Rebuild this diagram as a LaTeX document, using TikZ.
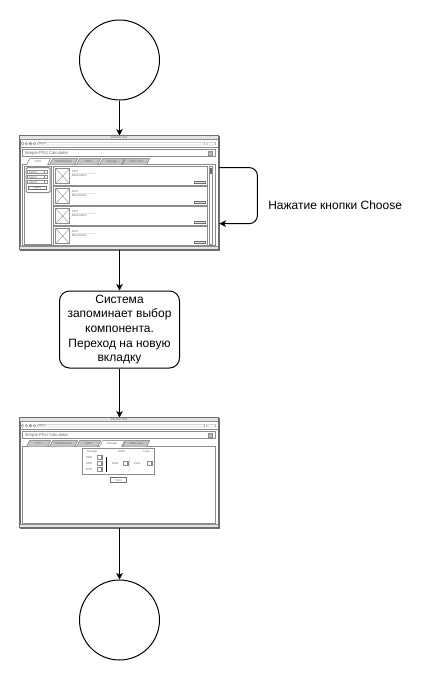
\documentclass[tikz,border=0pt]{standalone}
\usepackage{fontspec}
\setmainfont{Liberation Sans}
\usetikzlibrary{arrows.meta}

\definecolor{mockdark}{HTML}{6E6E6E}
\definecolor{mockline}{HTML}{8C8C8C}
\definecolor{mocklight}{HTML}{E4E4E4}
\definecolor{mocktab}{HTML}{C4C4C4}
\definecolor{mockink}{HTML}{6A6A6A}

\tikzset{
  flow/.style={->, black, line width=0.75pt},
  terminal/.style={circle, draw, minimum size=60pt, inner sep=0pt, line width=0.75pt},
  process/.style={rectangle, draw, rounded corners=7.5pt, minimum width=90pt, minimum height=57.75pt,
    inner sep=0pt, align=center, line width=0.75pt, font=\fontsize{9}{11}\selectfont},
  browserwin/.style={rectangle, draw=mockdark, fill=white, minimum width=149.25pt, inner sep=0pt, line width=0.6pt},
  mock/.style={draw=mockline, line width=0.3pt},
  mocklabel/.style={font=\fontsize{2.2}{2.6}\selectfont, text=mockink, inner sep=0pt},
  mocktitle/.style={font=\fontsize{3.2}{3.6}\selectfont, text=mockink, inner sep=0pt},
}

% common parts of a browser mockup, local coordinates, height #1
\newcommand{\mockframe}[1]{%
  \fill[mocklight] (0,0) rectangle (199,4);
  \draw[mock] (0,4) -- (199,4);
  \node[mocklabel] at (99.5,2) {Window Title};
  \foreach \cx in {3,7,11,15} {\draw[mock] (\cx,8) circle (1.1pt);}
  \draw[mock] (10.3,7.3) -- (11.7,8.7) (10.3,8.7) -- (11.7,7.3);
  \draw[mock, rounded corners=0.6pt] (18,6.6) rectangle (185,9.4);
  \node[mocklabel, anchor=west] at (19,8) {http://};
  \draw[mock, rounded corners=0.6pt] (187,6.6) rectangle (196,9.4);
  \draw[mock] (0,12) -- (199,12);
  \draw[mock] (3,14) rectangle (196,21);
  \node[mocktitle, anchor=west] at (5,17.5) {Simple PSU Calculator};
  \draw[mock, fill=mocklight] (189,15.5) rectangle (193,19.5);
  \draw[mock] (189,15.5) -- (193,19.5) (189,19.5) -- (193,15.5);
  \draw[mock] (3,29) rectangle (196,{#1-4});
  \fill[mocklight] (0,{#1-3}) rectangle (199,#1);
  \draw[mock] (0,{#1-3}) -- (199,{#1-3});
  \draw[mockdark, line width=0.6pt] (0,0) rectangle (199,#1);
}

\begin{document}
\begin{tikzpicture}[x=0.75pt, y=-0.75pt, >={Stealth[length=5pt, width=5pt, inset=1.5pt]}]
  \useasboundingbox (0,0) rectangle (437,682);

  % Nodes
  \node[terminal] at (119.5, 60) (start) {};
  \node[browserwin, minimum height=85.5pt] at (119.5, 193) (win1) {};
  \node[process] at (119.5, 329.5) (remember) {Система\\запоминает выбор\\компонента.\\Переход на новую\\вкладку};
  \node[browserwin, minimum height=82.5pt] at (119.5, 473) (win2) {};
  \node[terminal] at (119.5, 620) (stop) {};

  \draw[flow] (start) -- (win1);
  \draw[flow] (win1) -- (remember);
  \draw[flow] (remember) -- (win2);
  \draw[flow] (win2) -- (stop);

  % Choose loop
  \coordinate (loop out) at ([yshift=-24pt]win1.north east);
  \coordinate (loop in) at ([yshift=-66pt]win1.north east);
  \draw[flow, rounded corners=6pt] (loop out) -- ++(38,0) |- (loop in);
  \node[anchor=west, inner sep=0pt, font=\fontsize{9}{11}\selectfont] at (268, 205) (choose) {Нажатие кнопки Choose};

  % first window: component list
  \begin{scope}[shift={(win1.north west)}]
    \mockframe{114}
    \foreach \tx/\tw/\tl in {30/25/Motherboard, 57/21/RAM, 80/22/Storage, 103/24/Video card} {
      \draw[mockdark, line width=0.3pt, fill=mocktab] (\tx,29) -- (\tx+3,23) -- (\tx+\tw+3,23) -- (\tx+\tw,29);
      \node[mocklabel] at (\tx+\tw/2+1.5,26) {\tl};
    }
    \draw[mockdark, line width=0.3pt, fill=white] (7,29) -- (10,23) -- (31,23) -- (28,29);
    \draw[white, line width=0.5pt] (7.4,29) -- (27.6,29);
    \node[mocklabel] at (18.5,26) {CPU};
    % filter pane
    \draw[mock] (5,31) rectangle (32,109);
    \draw[mockline, line width=0.8pt, rounded corners=1pt] (6.5,32) rectangle (30.5,57);
    \foreach \fy in {35,40,45} {
      \draw[mock, fill=white] (8,\fy) rectangle (28,\fy+3);
      \draw[mock] (25,\fy) -- (25,\fy+3);
      \node[mocklabel, anchor=west] at (9,\fy+1.5) {Select};
    }
    \draw[mockdark, fill=white, line width=0.4pt] (9,50.5) rectangle (27,53.5);
    \node[mocklabel] at (18,52) {Apply};
    % list of components
    \begin{scope}
      \clip (33,30) rectangle (195,109);
      \foreach \i in {0,...,3} {
        \pgfmathsetmacro\iy{31+20*\i}
        \draw[mock, line width=0.5pt] (34,\iy) rectangle (188,\iy+19);
        \draw[mock] (36,\iy+2) rectangle (50,\iy+17);
        \draw[mock] (36,\iy+2) -- (50,\iy+17) (36,\iy+17) -- (50,\iy+2);
        \node[mocklabel, anchor=west] at (52,\iy+4.5) {CPU};
        \draw[mocklight, line width=0.5pt] (52,\iy+6.5) -- (77,\iy+6.5);
        \node[mocklabel, anchor=west] at (52,\iy+9) {Description};
        \draw[mockdark, fill=mocklight, line width=0.3pt] (175,\iy+15) rectangle (186,\iy+17);
      }
    \end{scope}
    % scrollbar
    \draw[mock] (189.5,31) rectangle (192.5,109);
    \fill[mockdark] (190,32.5) rectangle (192,38);
  \end{scope}

  % second window: storage settings
  \begin{scope}[shift={(win2.north west)}]
    \mockframe{110}
    \foreach \tx/\tw/\tl in {7/21/CPU, 30/25/Motherboard, 57/21/RAM, 103/24/Video card} {
      \draw[mockdark, line width=0.3pt, fill=mocktab] (\tx,29) -- (\tx+3,23) -- (\tx+\tw+3,23) -- (\tx+\tw,29);
      \node[mocklabel] at (\tx+\tw/2+1.5,26) {\tl};
    }
    \draw[mockdark, line width=0.3pt, fill=white] (80,29) -- (83,23) -- (105,23) -- (102,29);
    \draw[white, line width=0.5pt] (80.4,29) -- (101.6,29);
    \node[mocklabel] at (92.5,26) {Storage};
    % settings group
    \draw[mock, line width=0.8pt] (63,30.5) rectangle (135,57);
    \node[mocklabel, anchor=west] at (67,34) {Storage};
    \node[mocklabel] at (102,34) {RAM};
    \node[mocklabel] at (127,34) {Fans};
    \foreach \ry/\rl in {40/HDD, 46/SSD, 52/DVD} {
      \node[mocklabel, anchor=west] at (66,\ry) {\rl};
      \draw[mock, fill=white] (78,\ry-2) rectangle (83,\ry+2);
      \draw[mock] (81.5,\ry-2) -- (81.5,\ry+2);
    }
    \draw[black, line width=0.6pt] (87,39) -- (87,54);
    \node[mocklabel, anchor=west] at (92,46) {Slots};
    \draw[mock, fill=white] (104,44) rectangle (109,48);
    \draw[mock] (107.5,44) -- (107.5,48);
    \draw[mocklight, line width=0.5pt] (110,39) -- (110,54);
    \node[mocklabel, anchor=west] at (114,46) {Fans};
    \draw[mock, fill=white] (128,44) rectangle (133,48);
    \draw[mock] (131.5,44) -- (131.5,48);
    \draw[mockdark, fill=white, line width=0.4pt] (91,60) rectangle (107,65);
    \node[mocklabel] at (99,62.5) {Next};
  \end{scope}
\end{tikzpicture}
\end{document}
